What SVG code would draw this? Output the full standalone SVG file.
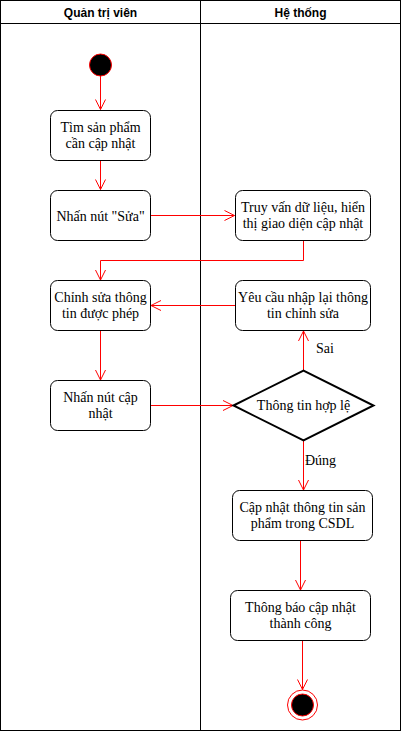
<svg xmlns="http://www.w3.org/2000/svg" width="401" height="731" viewBox="0 0 401 731">
<style>
.lane{fill:none;stroke:#000;stroke-width:1}
.hdr{font-family:"Liberation Sans",Arial,sans-serif;font-size:12px;font-weight:bold;fill:#000;text-anchor:middle}
.box{fill:#fff;stroke:#000;stroke-width:1}
.t{font-family:"Liberation Serif","Times New Roman",serif;font-size:14px;fill:#000;text-anchor:middle}
.lbl{font-family:"Liberation Serif","Times New Roman",serif;font-size:14px;fill:#000}
.edge{fill:none;stroke:#FF0000;stroke-width:1}
</style>
<defs>
<marker id="arr" viewBox="0 0 12 12" refX="11" refY="6" markerWidth="12" markerHeight="12" markerUnits="userSpaceOnUse" orient="auto">
<path d="M1,1 L11,6 L1,11" fill="none" stroke="#FF0000" stroke-width="1"/>
</marker>
</defs>
<rect width="401" height="731" fill="#fff"/>
<g id="lanes">
<rect class="lane" x="0.5" y="0.5" width="400" height="730"/>
<line class="lane" x1="0.5" y1="23.5" x2="400.5" y2="23.5"/>
<line class="lane" x1="200.5" y1="0.5" x2="200.5" y2="730.5"/>
<text class="hdr" x="100.5" y="17">Quản trị viên</text>
<text class="hdr" x="300.5" y="17">Hệ thống</text>
</g>
<g id="connectors">
<path class="edge" d="M100.5,76 L100.5,109.5" marker-end="url(#arr)"/>
<path class="edge" d="M100.5,160.5 L100.5,189.5" marker-end="url(#arr)"/>
<path class="edge" d="M150.5,215.5 L234.5,215.5" marker-end="url(#arr)"/>
<path class="edge" d="M303.5,240.5 L303.5,260.5 L100.5,260.5 L100.5,280" marker-end="url(#arr)"/>
<path class="edge" d="M235,305.5 L151,305.5" marker-end="url(#arr)"/>
<path class="edge" d="M100.5,330.5 L100.5,380" marker-end="url(#arr)"/>
<path class="edge" d="M150.5,405.5 L233,405.5" marker-end="url(#arr)"/>
<path class="edge" d="M303.5,370.5 L303.5,331" marker-end="url(#arr)"/>
<path class="edge" d="M303.5,440.5 L303.5,490" marker-end="url(#arr)"/>
<path class="edge" d="M300.5,540.5 L300.5,590" marker-end="url(#arr)"/>
<path class="edge" d="M302.5,640.5 L302.5,689.5" marker-end="url(#arr)"/>
<text class="lbl" x="316" y="353">Sai</text>
<text class="lbl" x="305" y="465">Đúng</text>
</g>
<g id="start">
<circle cx="100.5" cy="65" r="11" fill="#000" stroke="#FF0000" stroke-width="1"/>
</g>
<g id="n1">
<rect class="box" x="50.5" y="110.5" width="100" height="50" rx="7"/>
<text class="t" x="100.5" y="131.5">Tìm sản phẩm</text>
<text class="t" x="100.5" y="148.3">cần cập nhật</text>
</g>
<g id="n2">
<rect class="box" x="50.5" y="190.5" width="100" height="50" rx="7"/>
<text class="t" x="100.5" y="220.5">Nhấn nút "Sửa"</text>
</g>
<g id="n3">
<rect class="box" x="235.5" y="190.5" width="135" height="50" rx="7"/>
<text class="t" x="303" y="211.5">Truy vấn dữ liệu, hiển</text>
<text class="t" x="303" y="228.3">thị giao diện cập nhật</text>
</g>
<g id="n4">
<rect class="box" x="50.5" y="280.5" width="100" height="50" rx="7"/>
<text class="t" x="100.5" y="301.5">Chỉnh sửa thông</text>
<text class="t" x="100.5" y="318.3">tin được phép</text>
</g>
<g id="n5">
<rect class="box" x="235.5" y="280.5" width="135" height="50" rx="7"/>
<text class="t" x="303" y="301.5">Yêu cầu nhập lại thông</text>
<text class="t" x="303" y="318.3">tin chỉnh sửa</text>
</g>
<g id="n6">
<rect class="box" x="50.5" y="380.5" width="100" height="50" rx="7"/>
<text class="t" x="100.5" y="401.5">Nhấn nút cập</text>
<text class="t" x="100.5" y="418.3">nhật</text>
</g>
<g id="decision">
<polygon points="233.5,405.5 303.5,370.5 373.5,405.5 303.5,440.5" fill="#fff" stroke="#000" stroke-width="2"/>
<text class="t" x="303.5" y="410">Thông tin hợp lệ</text>
</g>
<g id="n7">
<rect class="box" x="232.5" y="490.5" width="140" height="50" rx="7"/>
<text class="t" x="302.5" y="511.5">Cập nhật thông tin sản</text>
<text class="t" x="302.5" y="528.3">phẩm trong CSDL</text>
</g>
<g id="n8">
<rect class="box" x="230.5" y="590.5" width="140" height="50" rx="7"/>
<text class="t" x="300.5" y="611.5">Thông báo cập nhật</text>
<text class="t" x="300.5" y="628.3">thành công</text>
</g>
<g id="end">
<circle cx="302.5" cy="705" r="15" fill="#fff" stroke="#FF0000" stroke-width="1"/>
<circle cx="302.5" cy="705" r="11" fill="#000" stroke="#FF0000" stroke-width="1"/>
</g>
</svg>
